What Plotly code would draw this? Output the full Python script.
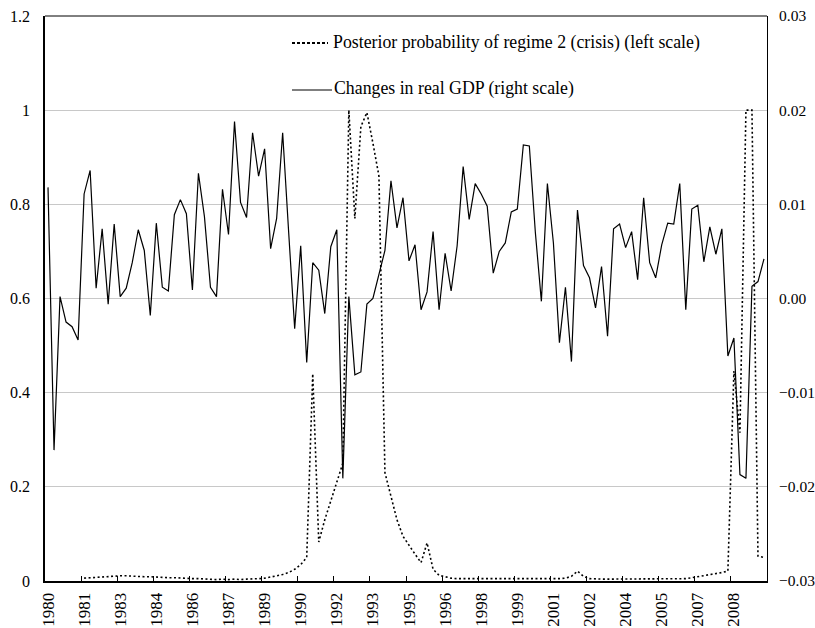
import plotly.graph_objects as go

# Quarterly sample 1980Q1 - 2009Q4
quarters = [f"{y}Q{q}" for y in range(1980, 2010) for q in range(1, 5)]

# Quarterly change in real GDP (log difference)
gdp_change = [
    0.0118, -0.0161, 0.0002, -0.0025, -0.0030, -0.0044, 0.0111, 0.0136, 0.0011, 0.0074,
    -0.0006, 0.0079, 0.0002, 0.0011, 0.0038, 0.0073, 0.0051, -0.0018, 0.0080, 0.0012,
    0.0008, 0.0089, 0.0105, 0.0090, 0.0009, 0.0133, 0.0087, 0.0012, 0.0002, 0.0116,
    0.0068, 0.0188, 0.0102, 0.0086, 0.0176, 0.0130, 0.0159, 0.0053, 0.0085, 0.0176,
    0.0070, -0.0032, 0.0056, -0.0068, 0.0038, 0.0030, -0.0016, 0.0055, 0.0073, -0.0191,
    0.0002, -0.0081, -0.0078, -0.0006, 0.0000, 0.0025, 0.0051, 0.0125, 0.0075, 0.0107,
    0.0040, 0.0057, -0.0012, 0.0007, 0.0071, -0.0012, 0.0048, 0.0008, 0.0056, 0.0140,
    0.0084, 0.0122, 0.0111, 0.0098, 0.0027, 0.0050, 0.0059, 0.0092, 0.0095, 0.0163,
    0.0162, 0.0070, -0.0003, 0.0122, 0.0059, -0.0047, 0.0012, -0.0067, 0.0094, 0.0035,
    0.0022, -0.0010, 0.0034, -0.0040, 0.0074, 0.0079, 0.0054, 0.0071, 0.0020, 0.0107,
    0.0038, 0.0022, 0.0057, 0.0080, 0.0079, 0.0122, -0.0012, 0.0095, 0.0099, 0.0039,
    0.0076, 0.0047, 0.0074, -0.0061, -0.0042, -0.0187, -0.0191, 0.0013, 0.0018, 0.0042,
]

# Smoothed probability of the crisis regime (not available for the first quarters)
crisis_prob = [
    None, None, None, None, None, None, 0.006, 0.007, 0.008, 0.009,
    0.010, 0.010, 0.011, 0.011, 0.010, 0.010, 0.009, 0.009, 0.008, 0.008,
    0.007, 0.007, 0.006, 0.006, 0.005, 0.005, 0.004, 0.004, 0.003, 0.004,
    0.003, 0.004, 0.003, 0.004, 0.004, 0.005, 0.006, 0.008, 0.011, 0.014,
    0.018, 0.025, 0.035, 0.050, 0.440, 0.083, 0.130, 0.170, 0.210, 0.250,
    1.000, 0.770, 0.965, 0.995, 0.930, 0.860, 0.230, 0.180, 0.130, 0.095,
    0.075, 0.057, 0.039, 0.081, 0.025, 0.012, 0.009, 0.006, 0.005, 0.005,
    0.004, 0.004, 0.004, 0.004, 0.004, 0.004, 0.004, 0.004, 0.004, 0.004,
    0.004, 0.004, 0.004, 0.004, 0.004, 0.005, 0.006, 0.010, 0.021, 0.010,
    0.005, 0.004, 0.004, 0.004, 0.004, 0.004, 0.004, 0.004, 0.004, 0.004,
    0.004, 0.004, 0.004, 0.004, 0.004, 0.004, 0.005, 0.007, 0.009, 0.011,
    0.013, 0.016, 0.018, 0.021, 0.446, 0.315, 1.000, 1.000, 0.053, 0.050,
]

# Year labels, one every six quarters
year_labels = ["1980", "1981", "1983", "1984", "1986", "1987", "1989", "1990", "1992", "1993",
               "1995", "1996", "1998", "1999", "2001", "2002", "2004", "2005", "2007", "2008"]
left_ticks = [0, 0.2, 0.4, 0.6, 0.8, 1.0, 1.2]
left_labels = ["0", "0.2", "0.4", "0.6", "0.8", "1", "1.2"]
right_ticks = [-0.03, -0.02, -0.01, 0.0, 0.01, 0.02, 0.03]
right_labels = ["\u22120.03", "\u22120.02", "\u22120.01", "0.00", "0.01", "0.02", "0.03"]

label_step = 6
xpos = list(range(len(quarters)))
label_pos = [i * label_step for i in range(len(year_labels))]
boundary_ticks = [p - 0.5 for p in label_pos[1:]]

FONT = "Liberation Serif"
W, H = 815, 628
L, R, T, B = 45, 48, 16, 47
pw, ph = W - L - R, H - T - B


def px_x(x):
    return (x - L) / pw


def px_y(y):
    return (H - B - y) / ph


fig = go.Figure()

fig.add_trace(go.Scatter(
    x=xpos, y=crisis_prob, mode="lines", yaxis="y", hovertext=quarters,
    line=dict(color="black", width=1.6, dash="2px,2.5px"),
    name="Posterior probability of regime 2 (crisis) (left scale)", showlegend=False,
))
fig.add_trace(go.Scatter(
    x=xpos, y=gdp_change, mode="lines", yaxis="y2", hovertext=quarters,
    line=dict(color="black", width=1.2),
    name="Changes in real GDP (right scale)", showlegend=False,
))

# Legend drawn inside the plot area
LEG_FONT = dict(family=FONT, size=17.8, color="black")
fig.add_shape(type="line", xref="paper", yref="paper",
              x0=px_x(292), x1=px_x(328), y0=px_y(43), y1=px_y(43),
              line=dict(color="black", width=2, dash="3px,2px"))
fig.add_annotation(xref="paper", yref="paper", x=px_x(331), y=px_y(43),
                   xanchor="left", yanchor="middle", showarrow=False,
                   text="Posterior probability of regime 2 (crisis) (left scale)",
                   font=LEG_FONT)
fig.add_shape(type="line", xref="paper", yref="paper",
              x0=px_x(292), x1=px_x(332), y0=px_y(90), y1=px_y(90),
              line=dict(color="black", width=1.2))
fig.add_annotation(xref="paper", yref="paper", x=px_x(332), y=px_y(89),
                   xanchor="left", yanchor="middle", showarrow=False,
                   text="Changes in real GDP (right scale)",
                   font=LEG_FONT)

# Thin frame line along the top of the plot area
fig.add_shape(type="line", xref="paper", yref="paper", x0=0, x1=1, y0=1, y1=1,
              line=dict(color="black", width=1))

fig.update_layout(
    width=W, height=H,
    margin=dict(l=L, r=R, t=T, b=B, pad=0, autoexpand=False),
    paper_bgcolor="white", plot_bgcolor="white",
    font=dict(family=FONT, size=16, color="black"),
    xaxis=dict(
        range=[-0.5, len(quarters) - 0.5], tickmode="array",
        tickvals=label_pos, ticktext=year_labels, tickangle=-90,
        tickfont=dict(family=FONT, size=17, color="black"),
        ticks="", showgrid=False, zeroline=False, automargin=False,
        showline=True, linecolor="black", linewidth=2,
        ticklabelstandoff=3,
        minor=dict(tickmode="array", tickvals=boundary_ticks, ticks="inside",
                   ticklen=5, tickwidth=1, tickcolor="black", showgrid=False),
    ),
    yaxis=dict(
        range=[0, 1.2], tickmode="array", tickvals=left_ticks, ticktext=left_labels,
        ticks="", showgrid=True, gridcolor="#c8c8c8", gridwidth=1, zeroline=False,
        showline=True, linecolor="black", linewidth=1.5, ticklabelstandoff=10,
        automargin=False,
    ),
    yaxis2=dict(
        range=[-0.03, 0.03], overlaying="y", side="right", tickmode="array",
        tickvals=right_ticks, ticktext=right_labels, ticks="", showgrid=False,
        tickfont=dict(family=FONT, size=15.5, color="black"),
        zeroline=False, showline=True, linecolor="black", linewidth=1,
        ticklabelstandoff=8, automargin=False,
    ),
    showlegend=False,
)

fig.write_html("out.html")
